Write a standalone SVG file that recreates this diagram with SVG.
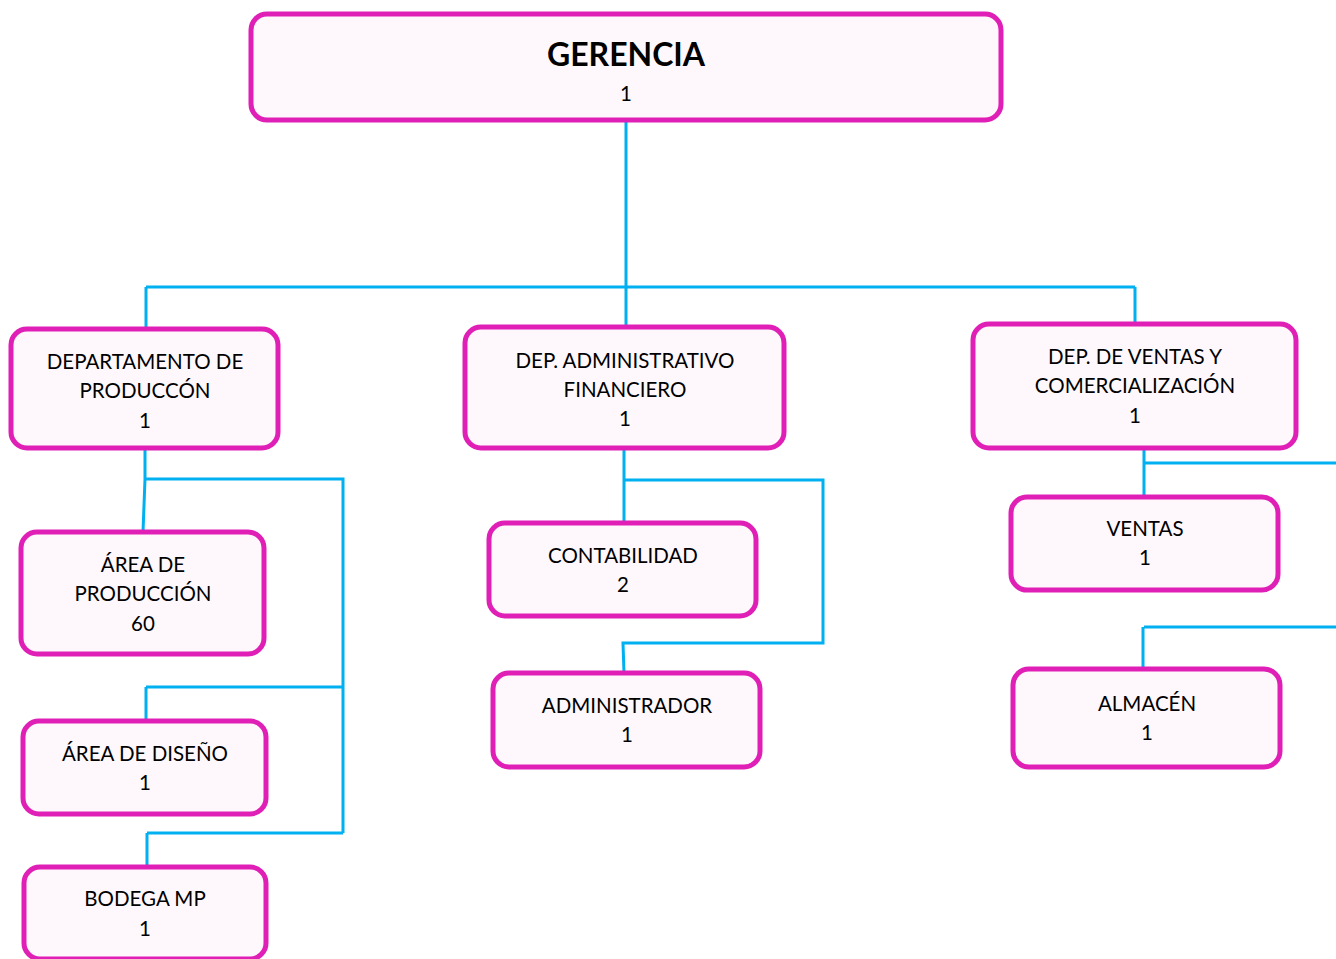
<svg xmlns="http://www.w3.org/2000/svg" width="1336" height="959" viewBox="0 0 1336 959">
<style>
.box{fill:#FEF8FD;stroke:#DF1FB5;stroke-width:5}
.t{font-family:Lato,"Liberation Sans",sans-serif;font-size:20.5px;fill:#000;text-anchor:middle}
.h{font-family:Lato,"Liberation Sans",sans-serif;font-size:32px;font-weight:bold;fill:#000;text-anchor:middle}
.c{fill:none;stroke:#00B0F0;stroke-width:3}
</style>
<rect width="1336" height="959" fill="#fff"/>
<g id="connectors">
<path class="c" d="M626 120V287M146 287H1135M146 287V329M626 287V327M1135 287V323"/>
<path class="c" d="M145 448V479L143 532M145 479H343V833M146 687H343M146 687V721M147 833H343M147 833V867"/>
<path class="c" d="M624 448V523M624 480H823V643H623L624 673"/>
<path class="c" d="M1144 448V497M1144 463H1336M1144 627H1336M1143 627V669"/>
</g>
<g id="gerencia"><rect class="box" x="251" y="14" width="750" height="106" rx="16"/><text class="h" x="626" y="66">GERENCIA</text><text class="t" x="626" y="101">1</text></g>
<g id="dep-produccion"><rect class="box" x="11" y="329" width="267" height="119" rx="16"/><text class="t" x="145" y="369">DEPARTAMENTO DE</text><text class="t" x="145" y="398">PRODUCCÓN</text><text class="t" x="145" y="428">1</text></g>
<g id="dep-admin"><rect class="box" x="465" y="327" width="319" height="121" rx="16"/><text class="t" x="625" y="368">DEP. ADMINISTRATIVO</text><text class="t" x="625" y="397">FINANCIERO</text><text class="t" x="625" y="426">1</text></g>
<g id="dep-ventas"><rect class="box" x="973" y="324" width="323" height="124" rx="16"/><text class="t" x="1135" y="364">DEP. DE VENTAS Y</text><text class="t" x="1135" y="393">COMERCIALIZACIÓN</text><text class="t" x="1135" y="423">1</text></g>
<g id="area-produccion"><rect class="box" x="21" y="532" width="243" height="122" rx="16"/><text class="t" x="143" y="572">ÁREA DE</text><text class="t" x="143" y="601">PRODUCCIÓN</text><text class="t" x="143" y="631">60</text></g>
<g id="area-diseno"><rect class="box" x="23" y="721" width="243" height="93" rx="16"/><text class="t" x="145" y="761">ÁREA DE DISEÑO</text><text class="t" x="145" y="790">1</text></g>
<g id="bodega"><rect class="box" x="24" y="867" width="242" height="92" rx="16"/><text class="t" x="145" y="906">BODEGA MP</text><text class="t" x="145" y="936">1</text></g>
<g id="contabilidad"><rect class="box" x="489" y="523" width="267" height="93" rx="16"/><text class="t" x="623" y="563">CONTABILIDAD</text><text class="t" x="623" y="592">2</text></g>
<g id="administrador"><rect class="box" x="493" y="673" width="267" height="94" rx="16"/><text class="t" x="627" y="713">ADMINISTRADOR</text><text class="t" x="627" y="742">1</text></g>
<g id="ventas"><rect class="box" x="1011" y="497" width="267" height="93" rx="16"/><text class="t" x="1145" y="536">VENTAS</text><text class="t" x="1145" y="565">1</text></g>
<g id="almacen"><rect class="box" x="1013" y="669" width="267" height="98" rx="16"/><text class="t" x="1147" y="711">ALMACÉN</text><text class="t" x="1147" y="740">1</text></g>
</svg>
